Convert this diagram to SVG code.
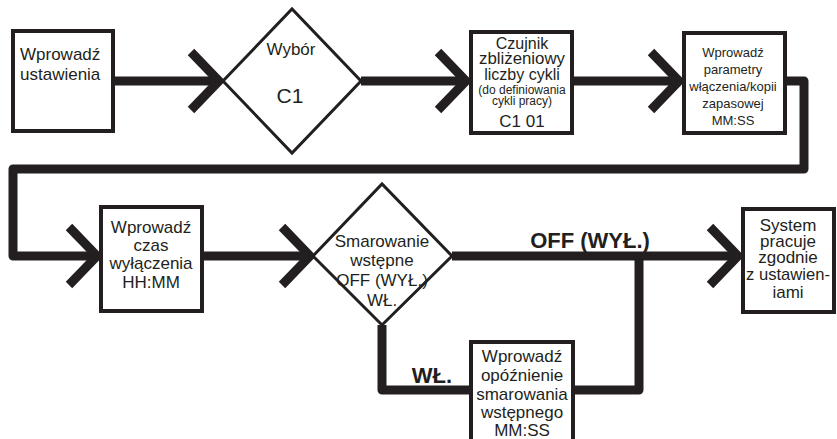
<svg xmlns="http://www.w3.org/2000/svg" width="837" height="439" viewBox="0 0 837 439">
<style>
.box{fill:#fff;stroke:#231f20;stroke-width:4}
.dia{fill:#fff;stroke:#231f20;stroke-width:3}
.ln{fill:none;stroke:#231f20;stroke-width:9;stroke-linejoin:round}
.ch{fill:none;stroke:#231f20;stroke-width:9;stroke-linejoin:miter;stroke-miterlimit:10}
text{font-family:"Liberation Sans",Arial,sans-serif;fill:#231f20;font-size:17px}
.c{text-anchor:middle}
.s16{font-size:16px}
.s13{font-size:13px}
.s12{font-size:12px}
.b{font-weight:bold;font-size:22px}
</style>
<rect width="837" height="439" fill="#fff"/>
<g id="connectors">
<path class="ln" d="M113,81 H220"/>
<path class="ch" d="M191,52 L219,81 L191,110"/>
<path class="ln" d="M361,81 H466"/>
<path class="ch" d="M438,52 L466,81 L438,110"/>
<path class="ln" d="M572,81 H680"/>
<path class="ch" d="M651,52 L679,81 L651,110"/>
<path class="ln" d="M785,81 H804 V169 H13 V256 H98"/>
<path class="ch" d="M69,227 L97,256 L69,285"/>
<path class="ln" d="M202,256 H310"/>
<path class="ch" d="M282,227 L310,256 L282,285"/>
<path class="ln" d="M452,256 H738"/>
<path class="ch" d="M710,227 L738,256 L710,285"/>
<path class="ln" d="M382,325 V390 H470"/>
<path class="ln" d="M574,390 H639 V256"/>
<text class="b c" x="590" y="248">OFF (WYŁ.)</text>
<text class="b c" x="432" y="383">WŁ.</text>
</g>
<g id="n1">
<rect class="box" x="13" y="31" width="100" height="100"/>
<text x="20" y="60">Wprowadź</text>
<text x="20" y="80">ustawienia</text>
</g>
<g id="n2">
<polygon class="dia" points="223,81 292,9 361,81 292,153"/>
<text class="c" x="291" y="55">Wybór</text>
<text class="c" x="290" y="103" style="font-size:21px">C1</text>
</g>
<g id="n3">
<rect class="box" x="471" y="32" width="101" height="101"/>
<text class="c s16" x="522" y="49">Czujnik</text>
<text class="c s16" x="522" y="64" textLength="86" lengthAdjust="spacingAndGlyphs">zbliżeniowy</text>
<text class="c s16" x="522" y="80">liczby cykli</text>
<text class="c s12" x="522" y="94">(do definiowania</text>
<text class="c s12" x="522" y="105">cykli pracy)</text>
<text class="c" x="522" y="127">C1 01</text>
</g>
<g id="n4">
<rect class="box" x="684" y="33" width="101" height="100"/>
<text class="c s13" x="733" y="57">Wprowadź</text>
<text class="c s13" x="733" y="74">parametry</text>
<text class="c s13" x="733" y="91">włączenia/kopii</text>
<text class="c s13" x="733" y="108">zapasowej</text>
<text class="c s13" x="733" y="125">MM:SS</text>
</g>
<g id="n5">
<rect class="box" x="101" y="207" width="101" height="104"/>
<text class="c" x="151" y="233">Wprowadź</text>
<text class="c" x="151" y="251">czas</text>
<text class="c" x="151" y="269">wyłączenia</text>
<text class="c" x="151" y="288">HH:MM</text>
</g>
<g id="n6">
<polygon class="dia" points="313,256 382,184 452,256 382,325"/>
<text class="c" x="382" y="247">Smarowanie</text>
<text class="c" x="382" y="266">wstępne</text>
<text class="c" x="382" y="286">OFF (WYŁ.)</text>
<text class="c" x="382" y="306">WŁ.</text>
</g>
<g id="n7">
<rect class="box" x="743" y="209" width="91" height="103"/>
<text class="c" x="788" y="231">System</text>
<text class="c" x="788" y="247">pracuje</text>
<text class="c" x="788" y="263">zgodnie</text>
<text class="c" x="788" y="280" textLength="84" lengthAdjust="spacingAndGlyphs">z ustawien-</text>
<text class="c" x="788" y="298">iami</text>
</g>
<g id="n8">
<rect class="box" x="471" y="342" width="102" height="110"/>
<text class="c" x="522" y="362">Wprowadź</text>
<text class="c" x="522" y="381">opóźnienie</text>
<text class="c" x="522" y="400">smarowania</text>
<text class="c" x="522" y="418">wstępnego</text>
<text class="c" x="522" y="436">MM:SS</text>
</g>
</svg>
